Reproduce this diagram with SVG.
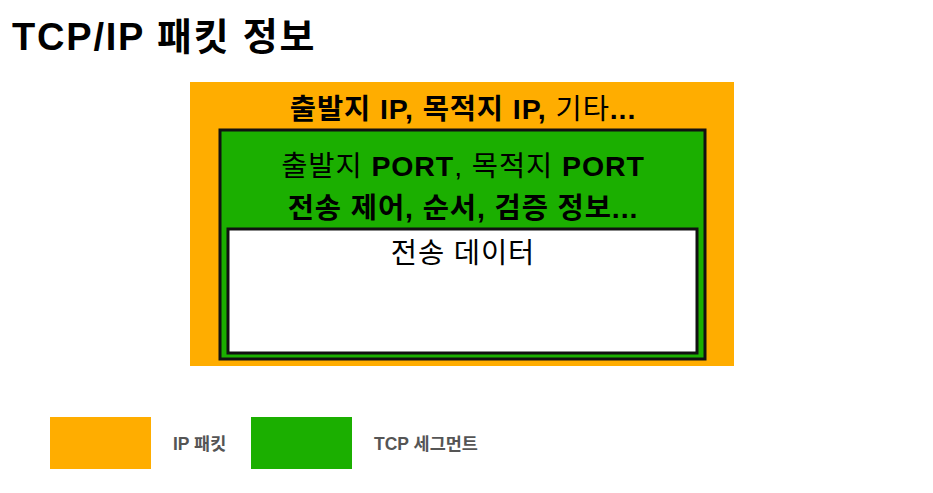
<svg xmlns="http://www.w3.org/2000/svg" width="933" height="493" viewBox="0 0 933 493">
<style>
text{font-family:"Liberation Sans","Noto Sans CJK KR",sans-serif;fill:#000}
.b{font-weight:bold}
.m{font-size:28.5px;text-anchor:middle;letter-spacing:0.9px}
.leg{font-size:17.5px;font-weight:bold;fill:#555}
</style>
<rect width="933" height="493" fill="#fff"/>
<text class="b" x="12" y="50" font-size="38" letter-spacing="1.8">TCP/IP 패킷 정보</text>
<g id="ip-packet">
<rect x="190" y="82" width="544" height="284" fill="#FFAD00"/>
<text class="m" x="463" y="119" letter-spacing="2"><tspan class="b">출발지 IP, 목적지 IP,</tspan> 기타<tspan class="b">...</tspan></text>
</g>
<g id="tcp-segment">
<rect x="220" y="130" width="485" height="229" fill="#1BAF00" stroke="#111" stroke-width="3"/>
<text class="m" x="463" y="176">출발지 <tspan class="b">PORT</tspan>, 목적지 <tspan class="b">PORT</tspan></text>
<text class="m b" x="463" y="218">전송 제어, 순서, 검증 정보...</text>
</g>
<g id="data">
<rect x="228" y="229" width="469" height="124" fill="#fff" stroke="#111" stroke-width="3"/>
<text class="m" x="463" y="263">전송 데이터</text>
</g>
<g id="legend">
<rect x="50" y="417" width="101" height="52" fill="#FFAD00"/>
<text class="leg" x="173" y="450">IP 패킷</text>
<rect x="251" y="417" width="101" height="52" fill="#1BAF00"/>
<text class="leg" x="374" y="450">TCP 세그먼트</text>
</g>
<g id="connectors"/>
</svg>
